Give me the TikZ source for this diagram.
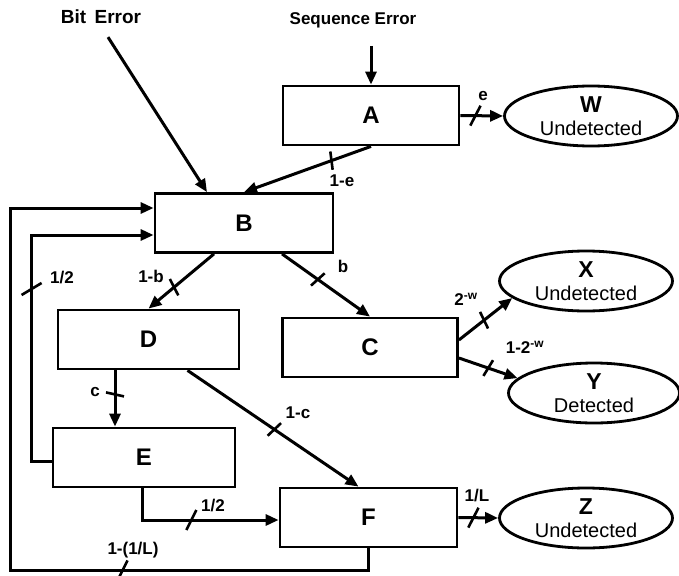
\documentclass[tikz,border=0pt]{standalone}
\usepackage{fontspec}
\setmainfont{Liberation Sans}
\usetikzlibrary{arrows.meta,shapes.geometric,decorations.markings}

\def\verdict#1#2{{\fontsize{23}{23}\selectfont\bfseries #1}\\#2}

\tikzset{
  state/.style={draw, line width=2.8pt, minimum width=178pt, minimum height=59pt, inner sep=0pt, font=\fontsize{24}{24}\selectfont\bfseries},
  outcome/.style={draw, ellipse, line width=2.8pt, minimum width=173pt, minimum height=60pt, inner sep=0pt, align=center, font=\fontsize{20}{23}\selectfont},
  flow/.style={line width=3pt, -{Triangle[length=13pt,width=11pt]}},
  prob/.style={font=\fontsize{17}{17}\selectfont\bfseries, inner sep=0pt},
  cause/.style={font=\fontsize{18}{18}\selectfont\bfseries, inner sep=2pt},
  cross/.style={postaction={decorate,decoration={markings,mark=at position #1 with {\draw[-,line width=2.6pt] (-2pt,-9pt) -- (2pt,9pt);}}}},
  slash/.style={postaction={decorate,decoration={markings,mark=at position #1 with {\draw[-,line width=2.6pt] (-5pt,-10pt) -- (5pt,10pt);}}}},
  rslash/.style={postaction={decorate,decoration={markings,mark=at position #1 with {\draw[-,line width=2.6pt] (6pt,-10pt) -- (-6pt,10pt);}}}},
}

\begin{document}
\begin{tikzpicture}[x=1pt, y=-1pt]
  \useasboundingbox (0,0) rectangle (679,575);

  %%% sources
  \node[cause, font=\fontsize{19}{19}\selectfont\bfseries] (biterr) at (101,17) {Bit\, Error};
  \node[cause, font=\fontsize{17}{17}\selectfont\bfseries] (seqerr) at (353,20) {Sequence Error};

  %%% states
  \node[state, minimum width=176pt] (A) at (371,115.5) {A};
  \node[state] (B) at (244,223) {B};
  \node[state, minimum width=175pt] (C) at (370,347.5) {C};
  \node[state, minimum width=181pt] (D) at (148.5,339.5) {D};
  \node[state, minimum width=182pt] (E) at (144,457.5) {E};
  \node[state, minimum width=177pt] (F) at (368.5,517.5) {F};

  %%% outcomes
  \node[outcome] (W) at (591,116) {\verdict{W}{Undetected}};
  \node[outcome] (X) at (586,281) {\verdict{X}{Undetected}};
  \node[outcome, minimum width=171pt] (Y) at (594,393) {\verdict{Y}{Detected}};
  \node[outcome] (Z) at (586,518) {\verdict{Z}{Undetected}};

  %%% arrows
  \draw[flow, shorten <=13pt] (biterr.south) -- ([xshift=-37pt]B.north);
  \draw[flow, shorten <=16pt] (seqerr.south -| A.north) -- (A.north);

  \draw[flow, slash=15pt] (A.east) -- (W.west);
  \draw[flow, cross=42pt] (A.south) -- (B.north);
  \draw[flow, cross=52pt] ([xshift=-30pt]B.south) -- (D.north);
  \draw[flow, cross=44pt] ([xshift=38pt]B.south) -- (C.north);
  \draw[flow, cross=32pt] ([yshift=7.5pt]C.east) -- (X.193);
  \draw[flow, cross=31pt] ([yshift=-10.5pt]C.east) -- (Y.169);
  \draw[flow, cross=24pt] ([xshift=-33.5pt]D.south) -- ([xshift=-33.5pt]D.south |- E.north);
  \draw[flow, cross=105pt] ([xshift=39pt]D.south) -- ([xshift=-10pt]F.north);
  \draw[flow, slash=81pt] ([xshift=-2pt]E.south) |- ([yshift=-2.5pt]F.west);
  \draw[flow, rslash=192pt] ([yshift=-3.5pt]E.west) -- ++(-20,0) |- ([yshift=-12pt]B.west);
  \draw[flow, slash=268pt] (F.south) |- ++(-358,22) |- ([yshift=15pt]B.west);
  \draw[flow, slash=15pt] (F.east) -- (Z.west);

  %%% probabilities
  \node[prob] (pe) at (483,96) {e};
  \node[prob] (pne) at (342,181) {1-e};
  \node[prob] (pnb) at (151,276) {1-b};
  \node[prob] (pb) at (343,266) {b};
  \node[prob] (pw) at (466,299) {2\textsuperscript{-w}};
  \node[prob] (pnw) at (525,347) {1-2\textsuperscript{-w}};
  \node[prob] (pc) at (95,392) {c};
  \node[prob] (pnc) at (298,413) {1-c};
  \node[prob] (phf) at (213,506) {1/2};
  \node[prob] (phb) at (62,278) {1/2};
  \node[prob] (pnl) at (133,550) {1-(1/L)};
  \node[prob] (pl) at (477,496) {1/L};
\end{tikzpicture}
\end{document}
